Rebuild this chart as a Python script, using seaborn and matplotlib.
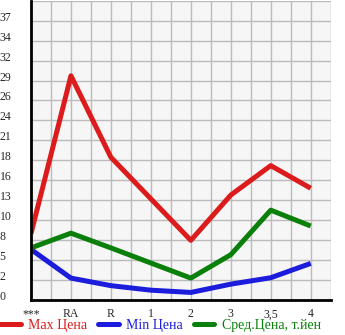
import numpy as np
import pandas as pd
import matplotlib
matplotlib.use("Agg")
import matplotlib.pyplot as plt
import seaborn as sns

# Grade categories along the x axis
grades = ["***", "RA", "R", "1", "2", "3", "3,5", "4"]

# Prices per grade (тыс. иен)
max_price = [8.8, 29.7, 18.9, 13.4, 7.9, 13.9, 17.8, 14.8]
min_price = [6.7, 2.9, 1.9, 1.3, 1.0, 2.1, 2.95, 4.85]
avg_price = [6.9, 8.85, 6.9, 4.9, 2.9, 6.0, 11.9, 9.8]

series_names = ["Max Цена", "Min Цена", "Сред.Цена, т.йен"]
series_colors = ["#dc1c1c", "#1c1cdc", "#0a800a"]

y_tick_labels = ["0", "2", "5", "8", "10", "13", "16", "18",
                 "21", "24", "26", "29", "32", "34", "37"]
y_step = 37 / 14

df = pd.DataFrame({
    "grade": grades * 3,
    "price": max_price + min_price + avg_price,
    "series": [series_names[0]] * len(grades)
              + [series_names[1]] * len(grades)
              + [series_names[2]] * len(grades),
})

sns.set_style("white")
plt.rcParams["font.family"] = ["Liberation Serif", "DejaVu Serif"]

fig = plt.figure(figsize=(3.45, 3.35), dpi=100)
ax = fig.add_axes([31 / 345, 35 / 335, 299.7 / 345, 299.3 / 335])
ax.set_facecolor("#f6f6f6")

sns.lineplot(data=df, x="grade", y="price", hue="series",
             palette=dict(zip(series_names, series_colors)),
             sort=False, linewidth=3.6, ax=ax, legend=False,
             solid_joinstyle="round", solid_capstyle="butt")

n = len(grades)
ax.set_xlim(0, n - 0.5)
ax.set_ylim(0, 15 * y_step)

# grid every half category and every y tick
ax.set_xticks(np.arange(0, n, 1.0))
ax.set_xticklabels(grades, fontsize=8.5)
ax.set_xticks(np.arange(0.5, n, 1.0), minor=True)
ax.set_yticks(np.arange(15) * y_step)
ax.set_yticklabels(y_tick_labels, fontsize=8.5, ha="left", va="baseline")

for x in np.arange(0, n, 0.5):
    ax.axvline(x, color="#bbbbbb", lw=1.0, zorder=0)
for i in range(16):
    ax.axhline(i * y_step, color="#bbbbbb", lw=1.0, zorder=0)

ax.tick_params(axis="x", which="major", length=0, pad=6)
ax.tick_params(axis="x", which="minor", length=3, width=1, color="black",
               direction="out")
ax.tick_params(axis="y", length=3, width=1, color="black", pad=19.5,
               direction="out")

for side in ["top", "right"]:
    ax.spines[side].set_visible(False)
for side in ["left", "bottom"]:
    ax.spines[side].set_color("black")
    ax.spines[side].set_linewidth(2)
ax.set_xlabel("")
ax.set_ylabel("")

handles = [plt.Line2D([], [], color=c, lw=3.6, solid_capstyle="round")
           for c in series_colors]
fig.legend(handles, series_names, loc="lower left",
           bbox_to_anchor=(0.0, 0.008), ncol=3, frameon=False,
           fontsize=10, handlelength=1.5, handletextpad=0.55,
           columnspacing=0.75, borderpad=0, borderaxespad=0,
           labelcolor="linecolor")

fig.savefig("out.png", dpi=100)
